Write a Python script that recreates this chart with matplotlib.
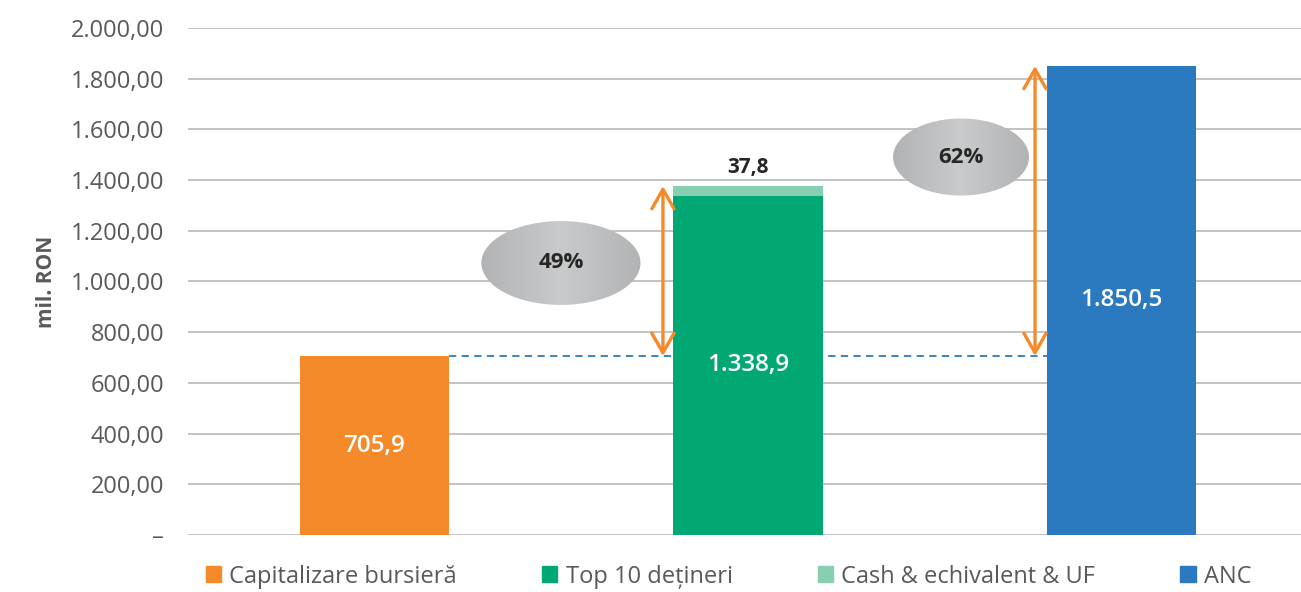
import matplotlib.pyplot as plt
import numpy as np
from matplotlib.patches import Ellipse, Patch
from matplotlib.colors import LinearSegmentedColormap
from matplotlib.ticker import FuncFormatter

plt.rcParams['font.family'] = ['Open Sans', 'DejaVu Sans']

# data
categories = ["Capitalizare bursieră", "Top 10 dețineri", "ANC"]
market_cap = 705.9
top10 = 1338.9
cash = 37.8
anc = 1850.5
pct_labels = ["49%", "62%"]
legend_labels = ["Capitalizare bursieră", "Top 10 dețineri", "Cash & echivalent & UF", "ANC"]

c_orange = "#F58A2A"
c_green = "#02A873"
c_light = "#88CFB1"
c_blue = "#2B7AC0"
c_text = "#595959"


def ro(v, dec):
    s = f"{v:,.{dec}f}"
    return s.replace(",", "X").replace(".", ",").replace("X", ".")


fig = plt.figure(figsize=(13.01, 5.92), dpi=100)
ax = fig.add_axes([0.1443, 0.0963, 0.8557, 0.8564])

w = 0.4
x = np.arange(3)
ax.bar(x[0], market_cap, w, color=c_orange, zorder=3)
ax.bar(x[1], top10, w, color=c_green, zorder=3)
ax.bar(x[1], cash, w, bottom=top10, color=c_light, zorder=3)
ax.bar(x[2], anc, w, color=c_blue, zorder=3)

# dashed reference line at market cap level
ax.hlines(market_cap, x[0] + w / 2, x[2] - w / 2, colors=c_blue, linestyles=(0, (4, 3)),
          linewidth=1.3, zorder=2)

# bar labels
for xi, val in [(x[0], market_cap), (x[1], top10), (x[2], anc)]:
    ax.text(xi, val / 2, ro(val, 1), color="white", ha="center", va="center",
            fontsize=17.5, fontweight="semibold", zorder=5)
ax.text(x[1], top10 + cash + 30, ro(cash, 1), color="#262626", ha="center", va="bottom",
        fontsize=15, fontweight="bold", zorder=5)

# double arrows
arrow_style = "<->,head_length=0.7,head_width=0.4"
for ax_x, top in [(x[1] - 0.228, top10 + cash), (x[2] - 0.232, anc)]:
    ax.annotate("", xy=(ax_x, top), xytext=(ax_x, market_cap),
                arrowprops=dict(arrowstyle=arrow_style, color=c_orange, lw=2.4,
                                shrinkA=0, shrinkB=0, mutation_scale=20), zorder=6)

# gray gradient ellipses
grad = np.abs(np.linspace(-1, 1, 256))[None, :]
cmap = LinearSegmentedColormap.from_list("g", ["#C8CACB", "#B1B3B5"])
for (ex, ey, ew, eh), lab in zip([(0.499, 1073, 0.426, 331), (1.570, 1491, 0.364, 304)], pct_labels):
    el = Ellipse((ex, ey), ew, eh, facecolor="none", edgecolor="none", zorder=4)
    ax.add_patch(el)
    im = ax.imshow(grad, cmap=cmap, extent=(ex - ew / 2, ex + ew / 2, ey - eh / 2, ey + eh / 2),
                   aspect="auto", zorder=4, interpolation="bilinear")
    im.set_clip_path(el)
    ax.text(ex, ey, lab, ha="center", va="center", fontsize=16, fontweight="bold",
            color="#262626", zorder=5)

ax.set_xlim(-0.5, 2.48)
ax.set_ylim(0, 2000)
ax.set_yticks(np.arange(0, 2001, 200))
ax.yaxis.set_major_formatter(FuncFormatter(lambda v, p: "–" if v == 0 else ro(v, 2)))
ax.tick_params(axis="y", length=0, pad=17, labelsize=17, labelcolor=c_text)
ax.set_xticks([])
ax.grid(axis="y", color="#BEBEBE", linewidth=1.3, zorder=0)
ax.set_axisbelow(True)
for s in ax.spines.values():
    s.set_visible(False)
ax.set_ylabel("mil. RON", fontsize=15, fontweight="bold", color=c_text, labelpad=10)

handles = [Patch(color=c) for c in [c_orange, c_green, c_light, c_blue]]
fig.legend(handles, legend_labels, loc="center", bbox_to_anchor=(0.560, 0.026), ncol=4,
           frameon=False, fontsize=17, labelcolor=c_text, handlelength=0.65, handleheight=0.65,
           handletextpad=0.35, columnspacing=3.6, borderpad=0.1)

fig.savefig("out.png", dpi=100)
